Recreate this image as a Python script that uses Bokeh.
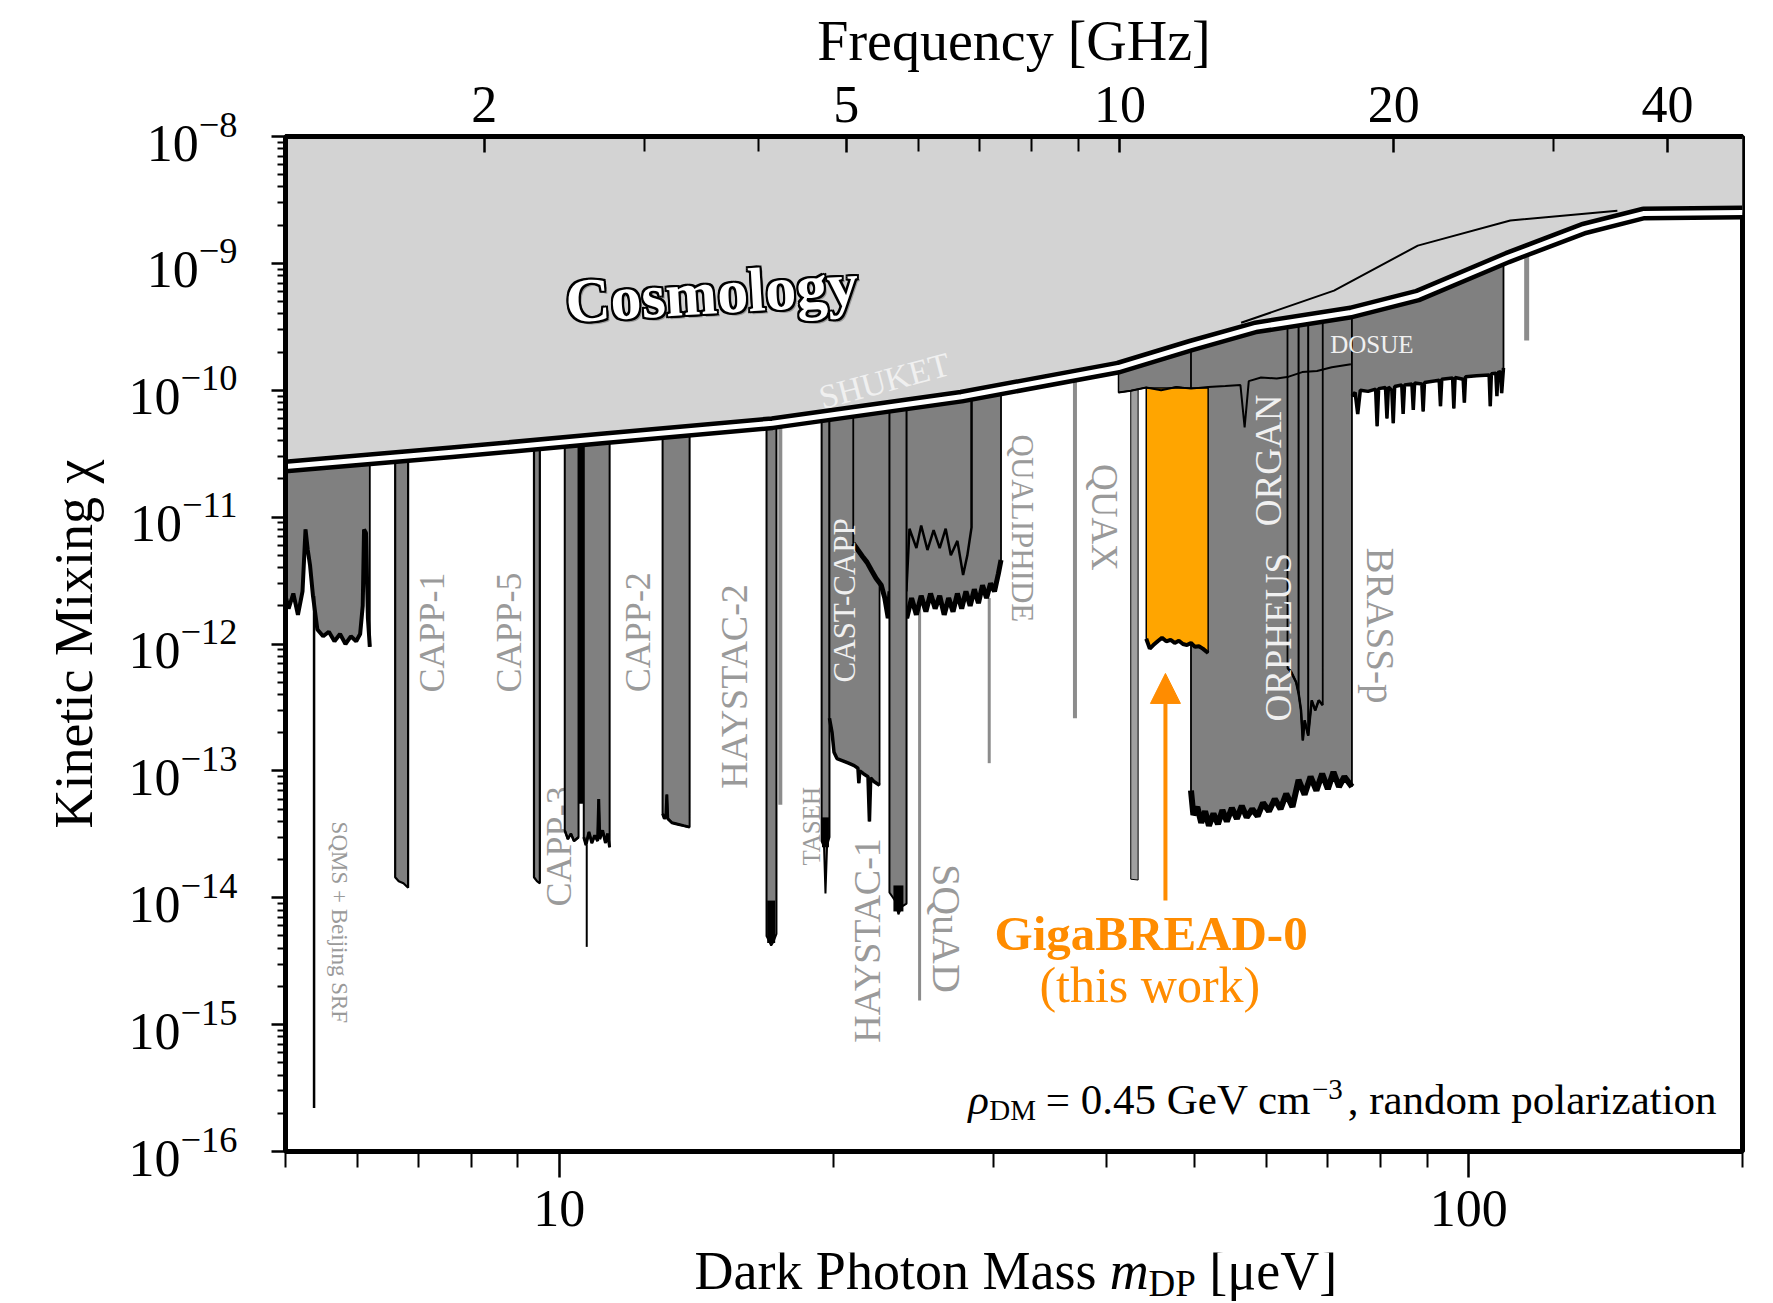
from bokeh.plotting import figure
from bokeh.layouts import column
from bokeh.models import (Range1d, LogScale, LogAxis, FixedTicker, LogTickFormatter,
                          PrintfTickFormatter, Arrow, NormalHead)
from bokeh.core.properties import value
from bokeh.embed import file_html
from bokeh.resources import INLINE

FONT = "Liberation Serif"
UEV_PER_GHZ = 4.135667

# ---------------- data ----------------
# cosmology bound (double black/white line) and the thin upper curve
cosmo_m = [5.0, 7.62, 11.14, 17.15, 27.67, 41.2, 49.5, 58.3, 74.2, 87.9, 110.3, 133.8, 155.6, 200.0]
cosmo_chi = [2.51e-11, 3.24e-11, 4.17e-11, 5.5e-11, 8.9e-11, 1.51e-10, 2.25e-10, 3.13e-10,
             4.1e-10, 5.58e-10, 1.11e-9, 1.88e-9, 2.47e-9, 2.52e-9]
cosmo2_m = [56.2, 71.1, 87.9, 111.1, 145.7]
cosmo2_chi = [3.4e-10, 6.1e-10, 1.38e-9, 2.18e-9, 2.6e-9]

# haloscope exclusions: mass [ueV] and lower edge of kinetic mixing
sqms_m = [5.0, 5.04, 5.1, 5.16, 5.22, 5.26, 5.29, 5.32, 5.36, 5.42, 5.5, 5.58, 5.66, 5.74,
          5.82, 5.9, 5.98, 6.04, 6.08, 6.1, 6.13, 6.16, 6.19]
sqms_chi = [2.4e-12, 1.9e-12, 2.5e-12, 1.7e-12, 2.6e-12, 8.0e-12, 5.5e-12, 4.2e-12, 2.4e-12,
            1.3e-12, 1.15e-12, 1.25e-12, 1.05e-12, 1.2e-12, 1.0e-12, 1.15e-12, 1.05e-12,
            1.2e-12, 2.0e-12, 8.0e-12, 7.5e-12, 1.6e-12, 9.5e-13]
capp1_m = [6.6, 6.66, 6.74, 6.82]
capp1_chi = [1.45e-14, 1.35e-14, 1.3e-14, 1.2e-14]
capp5_m = [9.38, 9.45, 9.52]
capp5_chi = [1.45e-14, 1.35e-14, 1.3e-14]
cappa_m = [10.14, 10.22, 10.3, 10.38, 10.5]
cappa_chi = [3.4e-14, 2.9e-14, 3.2e-14, 2.8e-14, 3.0e-14]
cappb_m = [10.64, 10.7, 10.78, 10.86, 10.94, 11.02, 11.05, 11.08, 11.16, 11.24, 11.3, 11.36]
cappb_chi = [3.0e-14, 2.6e-14, 3.3e-14, 2.7e-14, 3.1e-14, 2.8e-14, 6.0e-14, 2.9e-14,
             3.4e-14, 2.7e-14, 3.2e-14, 2.5e-14]
cappc_m = [12.99, 13.05, 13.1, 13.13, 13.16, 13.3, 13.5, 13.7, 13.91]
cappc_chi = [4.6e-14, 4.2e-14, 4.4e-14, 6.5e-14, 4.2e-14, 3.9e-14, 3.8e-14, 3.7e-14, 3.6e-14]
haystac2_m = [16.9, 17.0, 17.1, 17.2, 17.33]
haystac2_chi = [5.0e-15, 4.6e-15, 4.2e-15, 4.5e-15, 5.2e-15]
taseh_m = [19.43, 19.55, 19.62, 19.7, 19.82]
taseh_chi = [2.8e-14, 2.5e-14, 1.08e-14, 2.6e-14, 3.0e-14]
haystac1_m = [19.82, 19.95, 20.05, 20.2, 20.5, 20.8, 21.1, 21.3, 21.35, 21.4, 21.6, 21.85,
              21.93, 22.0, 22.2, 22.5]
haystac1_chi = [2.6e-13, 2.0e-13, 1.4e-13, 1.25e-13, 1.2e-13, 1.15e-13, 1.1e-13, 1.05e-13,
                8.0e-14, 1.0e-13, 9.5e-14, 9.0e-14, 4.0e-14, 8.8e-14, 8.2e-14, 7.7e-14]
castcapp_m = [21.05, 21.3, 21.55, 21.8, 22.05, 22.3, 22.6, 22.8, 23.0, 23.1, 23.3, 23.5, 23.7,
              23.9, 24.1, 24.4, 24.7, 25.0, 25.3, 25.6, 25.9, 26.2, 26.5, 26.8, 27.1, 27.4,
              27.7, 28.0, 28.3, 28.6, 28.9, 29.2, 29.5, 29.8, 30.1, 30.4, 30.6]
castcapp_chi = [6.2e-12, 5.5e-12, 4.9e-12, 4.4e-12, 3.8e-12, 3.3e-12, 2.9e-12, 2.3e-12,
                1.6e-12, 2.6e-12, 1.5e-12, 2.4e-12, 1.7e-12, 2.2e-12, 1.6e-12, 2.3e-12,
                1.7e-12, 2.4e-12, 1.8e-12, 2.5e-12, 1.9e-12, 2.4e-12, 1.7e-12, 2.3e-12,
                1.8e-12, 2.5e-12, 1.9e-12, 2.6e-12, 2.0e-12, 2.7e-12, 2.1e-12, 2.9e-12,
                2.3e-12, 3.0e-12, 2.6e-12, 3.6e-12, 4.6e-12]
inner_m = [24.08, 24.27, 24.7, 25.0, 25.4, 25.8, 26.2, 26.6, 26.95, 27.4, 27.8, 28.1, 28.4, 28.4]
inner_chi = [2.6e-12, 8.1e-12, 5.7e-12, 8.6e-12, 5.5e-12, 7.9e-12, 5.7e-12, 8.1e-12, 5.0e-12,
             6.5e-12, 3.5e-12, 5.0e-12, 8.3e-12, 1e-8]
narrow_m = [23.07, 23.4, 23.6, 23.8, 24.09]
narrow_chi = [1.1e-14, 9.5e-15, 7.4e-15, 8.5e-15, 9.0e-15]
lightbar_m = [42.5, 43.3]
lightbar_chi = [1.4e-14, 1.38e-14]
shallow_m = [41.2, 42.5, 44.2, 45.9, 47.7, 49.5, 51.7, 54.0, 56.1, 56.7, 57.3, 59.1, 61.5,
             63.4, 65.6, 68.1, 70.7, 74.2]
shallow_chi = [9.6e-11, 9.9e-11, 1.05e-10, 1.0e-10, 1.06e-10, 1.03e-10, 1.06e-10, 1.08e-10,
               1.1e-10, 5.1e-11, 1.18e-10, 1.26e-10, 1.24e-10, 1.28e-10, 1.39e-10, 1.42e-10,
               1.52e-10, 1.6e-10]
organ_m = [49.5, 49.8, 50.3, 50.8, 51.3, 51.8, 52.4, 53.0, 53.6, 54.2, 54.9, 55.6, 56.3, 57.0,
           57.8, 58.6, 59.4, 60.3, 61.2, 62.1, 63.0, 64.0, 65.0, 66.0, 67.0, 68.0, 69.0, 70.0,
           71.0, 72.0, 73.0, 74.4]
organ_chi = [7.0e-14, 4.5e-14, 5.2e-14, 3.9e-14, 4.8e-14, 3.7e-14, 4.6e-14, 3.8e-14, 4.9e-14,
             4.0e-14, 5.1e-14, 4.2e-14, 5.3e-14, 4.3e-14, 5.0e-14, 4.4e-14, 5.6e-14, 4.8e-14,
             6.0e-14, 5.0e-14, 6.6e-14, 5.2e-14, 8.5e-14, 6.5e-14, 9.0e-14, 7.0e-14, 9.5e-14,
             7.2e-14, 9.8e-14, 7.5e-14, 9.0e-14, 7.5e-14]
orpheus_m = [63.2, 63.8, 64.6, 65.0, 65.4, 65.7, 66.0, 66.6, 67.2, 67.8, 68.4, 69.1]
orpheus_chi = [6.5e-13, 6.0e-13, 5.0e-13, 4.1e-13, 3.0e-13, 1.74e-13, 2.5e-13, 1.9e-13,
               3.6e-13, 3.0e-13, 3.6e-13, 3.3e-13]
dosue_m = [74.4, 75.0, 75.5, 76.0, 77.5, 79.0, 79.3, 79.6, 81.0, 81.3, 81.6, 82.3, 82.6, 82.9,
           84.4, 84.7, 85.0, 86.6, 86.9, 87.2, 88.8, 89.1, 89.4, 92.8, 93.1, 93.4, 96.0, 96.3,
           96.6, 98.6, 98.9, 99.2, 102.0, 105.3, 105.6, 105.9, 107.1, 107.4, 107.7, 108.4,
           108.7, 109.2]
dosue_chi = [9.0e-11, 9.6e-11, 6.5e-11, 1.0e-10, 9.8e-11, 1.02e-10, 5.2e-11, 1.03e-10,
             1.05e-10, 6.0e-11, 1.06e-10, 1.0e-10, 5.5e-11, 1.07e-10, 1.1e-10, 6.5e-11,
             1.1e-10, 1.12e-10, 7.0e-11, 1.14e-10, 1.12e-10, 6.8e-11, 1.15e-10, 1.2e-10,
             7.5e-11, 1.22e-10, 1.25e-10, 7.2e-11, 1.26e-10, 1.22e-10, 8.0e-11, 1.28e-10,
             1.3e-10, 1.32e-10, 7.5e-11, 1.35e-10, 1.36e-10, 9.0e-11, 1.38e-10, 1.4e-10,
             9.5e-11, 1.5e-10]
# GigaBREAD-0 (this work)
giga_m = [44.2, 44.6, 45.0, 45.5, 46.0, 46.5, 47.0, 47.5, 48.0, 48.5, 49.0, 49.5, 50.0, 50.5,
          51.0, 51.7]
giga_chi = [1.1e-12, 9.2e-13, 9.8e-13, 1.05e-12, 1.12e-12, 1.05e-12, 1.08e-12, 1.02e-12,
            1.06e-12, 1.0e-12, 9.8e-13, 1.02e-12, 9.5e-13, 9.6e-13, 9.2e-13, 8.5e-13]
giga_top = 1.04e-10

# single-line limits
gline_m = [17.5, 24.9, 29.7, 36.9, 115.8]
gline_top = [1e-8, 2.0e-12, 2.3e-12, 1e-8, 1e-8]
gline_bottom = [5.4e-14, 1.55e-15, 1.15e-13, 2.6e-13, 2.47e-10]
kline_m = [5.375, 10.57, 10.72, 65.0, 66.6]
kline_top = [2.4e-12, 1e-8, 2.6e-14, 1e-8, 1e-8]
kline_bottom = [2.2e-16, 5.5e-14, 4.1e-15, 4.1e-13, 1.9e-13]
tip_m = [17.1, 19.62, 23.6]
tip_top = [9.5e-15, 4.3e-14, 1.25e-14]
tip_bottom = [4.4e-15, 2.5e-14, 7.8e-15]

# labels
gray_text = ["CAPP-1", "CAPP-5", "CAPP-2", "HAYSTAC-2", "TASEH", "HAYSTAC-1", "SQuAD",
             "SQMS + Beijing SRF", "QUALIPHIDE", "QUAX", "BRASS-p"]
gray_m = [7.24, 8.8, 12.2, 15.58, 18.94, 21.77, 26.65, 5.73, 32.28, 39.72, 79.9]
gray_chi = [1.23e-12, 1.23e-12, 1.24e-12, 4.63e-13, 3.66e-14, 4.61e-15, 5.74e-15, 6.4e-15,
            8.15e-12, 9.95e-12, 1.4e-12]
white_text = ["CAST-CAPP", "ORGAN", "ORPHEUS", "DOSUE", "SHUKET"]
white_m = [20.59, 60.3, 61.7, 78.25, 22.78]
white_chi = [2.21e-12, 2.8e-11, 1.13e-12, 2.3e-10, 1.19e-10]

mass_major = [10, 100]
mass_minor = [5, 6, 7, 8, 9, 20, 30, 40, 50, 60, 70, 80, 90, 200]
freq_major = [2, 5, 10, 20, 40]
freq_minor = [3, 4, 6, 7, 8, 9, 30]
chi_major = [1e-16, 1e-15, 1e-14, 1e-13, 1e-12, 1e-11, 1e-10, 1e-9, 1e-8]
chi_minor = [k * d for d in chi_major[:-1] for k in range(2, 10)]

GRAY = "#808080"
LGRAY = "#9a9a9a"
WHITE = "#f0f0f0"
ORANGE = "#ffa500"
DORANGE = "#ff8c00"

# ---------------- main figure ----------------
BOTTOM_BORDER = 101
MAIN_H = 1151 + BOTTOM_BORDER
TITLE_H = 1303 - MAIN_H
p = figure(width=1773, height=MAIN_H, x_axis_type="log", y_axis_type="log", title=None,
           x_range=Range1d(5, 200), y_range=Range1d(1e-16, 1e-8),
           output_backend="svg", toolbar_location=None,
           min_border_left=285, min_border_right=31, min_border_top=136,
           min_border_bottom=BOTTOM_BORDER)
p.grid.visible = False
p.outline_line_color = "black"
p.outline_line_width = 5
p.background_fill_color = "white"
p.border_fill_color = "white"
p.extra_x_ranges = {"freq": Range1d(5 / UEV_PER_GHZ, 200 / UEV_PER_GHZ)}
p.extra_x_scales = {"freq": LogScale()}


def style_axis(ax):
    ax.major_label_text_font = FONT
    ax.major_label_text_font_size = "52px"
    ax.major_label_text_color = "black"
    ax.axis_line_width = 5
    ax.axis_line_color = "black"
    ax.major_tick_line_width = 2.5
    ax.minor_tick_line_width = 2
    ax.major_tick_line_color = "black"
    ax.minor_tick_line_color = "black"
    ax.axis_label_text_font = FONT
    ax.axis_label_text_font_style = "normal"
    ax.axis_label_text_color = "black"


xa = p.xaxis[0]
style_axis(xa)
xa.ticker = FixedTicker(ticks=mass_major, minor_ticks=mass_minor)
xa.formatter = PrintfTickFormatter(format="%d")
xa.major_tick_out = 26
xa.major_tick_in = 0
xa.minor_tick_out = 16
xa.minor_tick_in = 0
xa.major_label_standoff = 13

ya = p.yaxis[0]
style_axis(ya)
ya.ticker = FixedTicker(ticks=chi_major, minor_ticks=chi_minor)
ya.formatter = LogTickFormatter()
ya.axis_label = "Kinetic Mixing χ"
ya.axis_label_text_font_size = "54px"
ya.major_tick_out = 14
ya.major_tick_in = 0
ya.minor_tick_out = 8
ya.minor_tick_in = 0
ya.major_label_standoff = 34
ya.axis_label_standoff = 22

top = LogAxis(x_range_name="freq",
              ticker=FixedTicker(ticks=freq_major, minor_ticks=freq_minor),
              formatter=PrintfTickFormatter(format="%d"),
              axis_label="Frequency [GHz]")
style_axis(top)
top.axis_label_text_font_size = "56px"
top.major_tick_in = 16
top.major_tick_out = 0
top.minor_tick_in = 15
top.minor_tick_out = 0
top.major_label_standoff = 15
top.axis_label_standoff = 12
p.add_layout(top, "above")


def txt(fig, xs, ys, texts, size, color, angle=0.0, style="normal", align="center",
        baseline="middle", xo=0, yo=0):
    fig.text(x=xs, y=ys, text=texts, angle=angle, text_font=value(FONT),
             text_font_size=size, text_font_style=style, text_color=color,
             text_align=align, text_baseline=baseline, x_offset=xo, y_offset=yo)


def bar(ms, chis, fill=GRAY, top=1e-8, edge=1.8, bottom_w=None):
    xs = [ms[0]] + list(ms) + [ms[-1]]
    ys = [top] + list(chis) + [top]
    p.patch(xs, ys, fill_color=fill, line_color="black", line_width=edge)
    if bottom_w:
        p.line(ms, chis, line_color="black", line_width=bottom_w)


# label partly hidden behind the bars
txt(p, [9.99], [2.54e-14], ["CAPP-3"], "36px", LGRAY, angle=1.5708)

# thin single limits underneath
p.segment(x0=gline_m, y0=gline_top, x1=gline_m, y1=gline_bottom,
          line_color="#8c8c8c", line_width=[4, 3, 3, 4, 5])
bar(lightbar_m, lightbar_chi, fill="#a0a0a0", edge=1)

bar(sqms_m, sqms_chi, bottom_w=4)
bar(capp1_m, capp1_chi, edge=2.2)
bar(capp5_m, capp5_chi, edge=2.2)
bar(cappa_m, cappa_chi, edge=2, bottom_w=2.5)
bar(cappb_m, cappb_chi, edge=2, bottom_w=3)
bar(cappc_m, cappc_chi, edge=2, bottom_w=3)
bar(haystac2_m, haystac2_chi, edge=2)
bar(taseh_m, taseh_chi, edge=2)
bar(haystac1_m, haystac1_chi, bottom_w=3.5)
bar(castcapp_m, castcapp_chi, bottom_w=5)
p.line(inner_m, inner_chi, line_color="black", line_width=2.5)
bar(narrow_m, narrow_chi, edge=2)
bar(shallow_m, shallow_chi, edge=1.5)
bar(organ_m, organ_chi, bottom_w=6)
bar(orpheus_m, orpheus_chi, edge=1.8, bottom_w=2.5)
bar(dosue_m, dosue_chi, bottom_w=3.5)

p.segment(x0=kline_m, y0=kline_top, x1=kline_m, y1=kline_bottom,
          line_color="black", line_width=[2.5, 5, 2, 2, 2])
p.segment(x0=tip_m, y0=tip_top, x1=tip_m, y1=tip_bottom,
          line_color="black", line_width=[8, 7, 10])

# GigaBREAD-0 exclusion
bar(giga_m, giga_chi, fill=ORANGE, top=giga_top, edge=1.5, bottom_w=4)
p.line(shallow_m, shallow_chi, line_color="black", line_width=2)

# cosmology bound
p.patch(cosmo_m + [200, 5], cosmo_chi + [1e-8, 1e-8], fill_color="#d3d3d3", line_color=None)
p.line(cosmo2_m, cosmo2_chi, line_color="black", line_width=2)
p.line(cosmo_m, cosmo_chi, line_color="black", line_width=14, line_join="round")
p.line(cosmo_m, cosmo_chi, line_color="white", line_width=5, line_join="round")

# experiment labels
gray_angle = [1.5708] * 6 + [-1.5708] * 5
gray_size = ["36px", "36px", "36px", "38px", "25px", "38px", "40px", "23px", "31px", "37px", "39px"]
txt(p, gray_m, gray_chi, gray_text, gray_size, LGRAY, angle=gray_angle)
white_angle = [1.5708, 1.5708, 1.5708, 0.0, 0.262]
white_size = ["31px", "37px", "37px", "25px", "34px"]
txt(p, white_m, white_chi, white_text, white_size, WHITE, angle=white_angle)

# "Cosmology" with outline and shadow
ang = 0.061
txt(p, [14.71], [5.9e-10], ["Cosmology"], "62px", "#9a9a9a", angle=ang, style="bold", xo=3, yo=3)
offs = [(-2, -2), (-2, 0), (-2, 2), (0, -2), (0, 2), (2, -2), (2, 0), (2, 2)]
txt(p, [14.71] * 8, [5.9e-10] * 8, ["Cosmology"] * 8, "62px", "black", angle=ang, style="bold",
    xo=[o[0] for o in offs], yo=[o[1] for o in offs])
txt(p, [14.71], [5.9e-10], ["Cosmology"], "62px", "white", angle=ang, style="bold")

# this work
p.add_layout(Arrow(end=NormalHead(size=30, fill_color=DORANGE, line_color=DORANGE),
                   x_start=46.4, y_start=9.5e-15, x_end=46.4, y_end=5.86e-13,
                   line_color=DORANGE, line_width=4))
txt(p, [44.75], [4.06e-15], ["GigaBREAD-0"], "49px", DORANGE, style="bold",
    baseline="alphabetic", yo=-14)
txt(p, [44.6], [1.55e-15], ["(this work)"], "50px", DORANGE, baseline="alphabetic", yo=-15)

# rho_DM annotation
txt(p, [28.17], [2.11e-16], ["ρ"], "43px", "black", style="italic", align="left",
    baseline="alphabetic", yo=-11)
txt(p, [29.71], [1.83e-16], ["DM"], "29px", "black", align="left", baseline="alphabetic", yo=-8)
txt(p, [34.27], [2.11e-16], ["= 0.45 GeV cm"], "43px", "black", align="left",
    baseline="alphabetic", yo=-11)
txt(p, [67.23], [2.67e-16], ["−3"], "29px", "black", align="left", baseline="alphabetic", yo=-8)
txt(p, [73.6], [2.11e-16], [", random polarization"], "43px", "black", align="left",
    baseline="alphabetic", yo=-11)

# ---------------- strip below: x-axis title with subscript ----------------
p2 = figure(frame_width=1773 - 285 - 31, frame_height=TITLE_H, x_axis_type="log",
            x_range=p.x_range, y_range=Range1d(0, TITLE_H), title=None,
            output_backend="svg", toolbar_location=None,
            x_axis_location=None, y_axis_location=None,
            min_border_left=285, min_border_right=31, min_border_top=0, min_border_bottom=0)
p2.grid.visible = False
p2.outline_line_color = None
p2.background_fill_color = "white"
p2.border_fill_color = "white"
# texts hang from the top of the strip; offsets are pixels downward
txt(p2, [14.08], [TITLE_H], ["Dark Photon Mass"], "54px", "black", align="left",
    baseline="alphabetic", yo=18)
txt(p2, [40.29], [TITLE_H], ["m"], "54px", "black", style="italic", align="left",
    baseline="alphabetic", yo=18)
txt(p2, [44.46], [TITLE_H], ["DP"], "37px", "black", align="left", baseline="alphabetic", yo=31)
txt(p2, [51.84], [TITLE_H], ["[μeV]"], "54px", "black", align="left", baseline="alphabetic",
    yo=18)

layout = column(p, p2, spacing=0)
open("out.html", "w").write(file_html(layout, INLINE, title="GigaBREAD-0 dark photon limits"))
